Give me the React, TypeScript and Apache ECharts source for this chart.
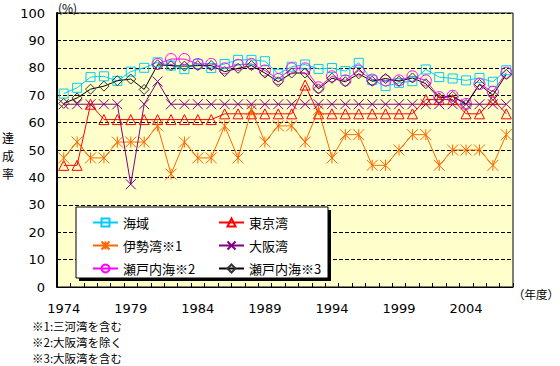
import React, { useEffect, useRef } from "react";
import * as echarts from "echarts";

const years = [
  "1974", "1975", "1976", "1977", "1978", "1979", "1980", "1981", "1982", "1983",
  "1984", "1985", "1986", "1987", "1988", "1989", "1990", "1991", "1992", "1993",
  "1994", "1995", "1996", "1997", "1998", "1999", "2000", "2001", "2002", "2003",
  "2004", "2005", "2006", "2007",
];

const kaiiki = [
  70.6, 72.7, 76.6, 76.9, 75.2, 78.6, 80.0, 82.0, 80.8, 79.5,
  81.4, 79.9, 81.4, 82.9, 82.9, 82.4, 77.8, 80.4, 81.2, 79.6,
  79.9, 78.8, 81.8, 75.5, 73.3, 74.5, 75.1, 79.4, 76.6, 76.1,
  75.4, 76.3, 74.9, 79.1,
];

const tokyoBay = [
  44.4, 44.4, 66.7, 61.1, 61.1, 61.1, 61.1, 61.1, 61.1, 61.1,
  61.1, 61.1, 63.2, 63.2, 63.2, 63.2, 63.2, 63.2, 73.7, 63.2,
  63.2, 63.2, 63.2, 63.2, 63.2, 63.2, 63.2, 68.4, 68.4, 68.4,
  63.2, 63.2, 68.4, 63.2,
];

const iseBay = [
  47.1, 52.9, 47.1, 47.1, 52.9, 52.9, 52.9, 58.8, 41.2, 52.9,
  47.1, 47.1, 58.8, 47.1, 64.7, 52.9, 58.8, 58.8, 52.9, 64.7,
  47.1, 55.6, 55.6, 44.4, 44.4, 50.0, 55.6, 55.6, 44.4, 50.0,
  50.0, 50.0, 44.4, 55.6,
];

const osakaBay = [
  66.7, 66.7, 66.7, 66.7, 66.7, 37.5, 66.7, 75.0, 66.7, 66.7,
  66.7, 66.7, 66.7, 66.7, 66.7, 66.7, 66.7, 66.7, 66.7, 66.7,
  66.7, 66.7, 66.7, 66.7, 66.7, 66.7, 66.7, 66.7, 66.7, 66.7,
  66.7, 66.7, 66.7, 66.7,
];

const setoExclOsaka: (number | null)[] = [
  null, null, null, null, null, null, null, 81.4, 83.2, 83.2,
  81.4, 81.4, 79.8, 81.1, 81.4, 79.0, 75.9, 79.8, 79.8, 72.9,
  76.9, 75.4, 79.0, 75.7, 75.4, 75.4, 76.9, 75.4, 69.3, 69.8,
  66.8, 74.1, 71.2, 78.2,
];

const setoInclOsaka = [
  67.0, 69.0, 72.2, 73.3, 75.3, 75.9, 72.1, 81.1, 80.8, 80.6,
  80.8, 80.8, 78.6, 79.8, 80.8, 78.1, 74.9, 78.1, 78.1, 72.3,
  76.2, 74.9, 77.8, 75.1, 76.1, 75.1, 76.3, 74.2, 69.0, 69.6,
  66.6, 73.9, 70.0, 77.6,
];

const seriesNames = ["海域", "東京湾", "伊勢湾※1", "大阪湾", "瀬戸内海※2", "瀬戸内海※3"];
const footnotes = ["※1:三河湾を含む", "※2:大阪湾を除く", "※3:大阪湾を含む"];
const yAxisNameChars = ["達", "成", "率"];

const STAR = "path://M0,-5L0,5M-5,-5L5,5M-5,5L5,-5";
const CROSS = "path://M-5,-5L5,5M-5,5L5,-5";

function mk(name: string, data: (number | null)[], color: string, symbol: string, size: number, border?: string) {
  return {
    name,
    type: "line",
    data,
    symbol,
    symbolSize: size,
    showSymbol: true,
    showAllSymbol: true,
    connectNulls: false,
    lineStyle: { color, width: 1 },
    itemStyle: { color: "rgba(0,0,0,0)", borderColor: border || color, borderWidth: 1 },
    emphasis: { disabled: true },
  };
}

export default function App() {
  const ref = useRef<HTMLDivElement>(null);
  useEffect(() => {
    document.body.style.margin = "0";
    const chart = echarts.init(ref.current!, null, { renderer: "svg" });
    const jp = "'Noto Sans CJK JP', sans-serif";
    const num = "'DejaVu Sans', sans-serif";
    chart.setOption({
      animation: false,
      backgroundColor: "#ffffff",
      grid: {
        left: 57,
        right: 47,
        top: 13,
        bottom: 79,
        show: true,
        backgroundColor: "#FFFFCC",
        borderColor: "#000",
        borderWidth: 1,
      },
      xAxis: {
        type: "category",
        data: years,
        boundaryGap: true,
        axisLine: { lineStyle: { color: "#000", width: 1 } },
        axisTick: { show: true, inside: true, length: 4, interval: 0, lineStyle: { color: "#000" } },
        axisLabel: { interval: 4, color: "#000", fontSize: 13, fontFamily: num, margin: 15 },
        splitLine: { show: false },
      },
      yAxis: {
        type: "value",
        min: 0,
        max: 100,
        interval: 10,
        axisLine: { show: true, lineStyle: { color: "#000", width: 2 } },
        axisTick: { show: false },
        axisLabel: { color: "#000", fontSize: 13, fontFamily: num, margin: 12 },
        splitLine: { show: true, lineStyle: { color: "#000", type: [4, 2], width: 1 } },
      },
      legend: [
        {
          orient: "vertical",
          left: 87,
          top: 211,
          itemWidth: 25,
          itemHeight: 10,
          itemGap: 10,
          data: [seriesNames[0], seriesNames[2], seriesNames[4]],
          textStyle: { fontSize: 13, fontFamily: jp, color: "#000" },
          selectedMode: false,
        },
        {
          orient: "vertical",
          left: 213,
          top: 211,
          itemWidth: 25,
          itemHeight: 10,
          itemGap: 10,
          data: [seriesNames[1], seriesNames[3], seriesNames[5]],
          textStyle: { fontSize: 13, fontFamily: jp, color: "#000" },
          selectedMode: false,
        },
      ],
      graphic: [
        { type: "rect", z: 3, shape: { x: 79, y: 210, width: 252, height: 71 }, style: { fill: "#000" } },
        { type: "rect", z: 3, shape: { x: 76, y: 207, width: 252, height: 71 }, style: { fill: "#fff", stroke: "#000", lineWidth: 1 } },
        { type: "text", left: 58, top: 1, style: { text: "(%)", fontSize: 12, fontFamily: jp, fill: "#000" } },
        ...yAxisNameChars.map((c, i) => ({
          type: "text",
          x: 8,
          y: 137 + i * 18,
          style: { text: c, fontSize: 12, fontFamily: jp, fill: "#000", align: "center", verticalAlign: "middle" },
        })),
        { type: "text", x: 513, y: 294, style: { text: "（年度）", fontSize: 11.5, fontFamily: jp, fill: "#000", verticalAlign: "middle" } },
        ...footnotes.map((t, i) => ({
          type: "text",
          x: 32,
          y: 326 + i * 15.8,
          style: { text: t, fontSize: 11.5, fontFamily: jp, fill: "#000", verticalAlign: "middle" },
        })),
      ],
      series: [
        mk(seriesNames[0], kaiiki, "#00CCFF", "rect", 9),
        mk(seriesNames[1], tokyoBay, "#FF0000", "triangle", 10),
        mk(seriesNames[2], iseBay, "#FF6600", STAR, 11),
        mk(seriesNames[3], osakaBay, "#800080", CROSS, 10),
        mk(seriesNames[4], setoExclOsaka, "#FF00FF", "circle", 11),
        mk(seriesNames[5], setoInclOsaka, "#000000", "diamond", 10, "#333333"),
      ],
    });
    return () => chart.dispose();
  }, []);
  return <div ref={ref} style={{ width: 560, height: 366, position: "absolute", left: 0, top: 0 }} />;
}
